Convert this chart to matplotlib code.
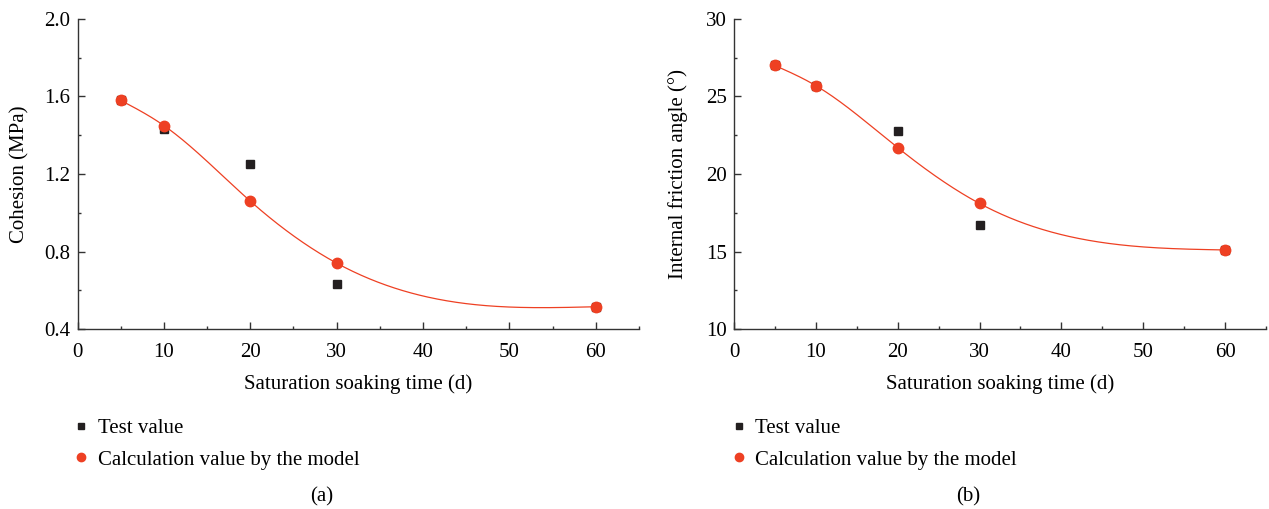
import matplotlib
matplotlib.use('Agg')
import numpy as np
import matplotlib.pyplot as plt
from matplotlib.ticker import MultipleLocator

plt.rcParams['font.family'] = ['Liberation Serif', 'DejaVu Serif']
plt.rcParams['font.size'] = 15

# soaking time (d)
days = [5, 10, 20, 30, 60]
# cohesion (MPa)
coh_test = [1.58, 1.43, 1.25, 0.63, 0.515]
coh_model = [1.58, 1.45, 1.06, 0.74, 0.515]
# internal friction angle (deg)
fric_test = [27.0, 25.65, 22.8, 16.7, 15.1]
fric_model = [27.0, 25.7, 21.7, 18.1, 15.1]

fit_days = [5, 10, 20, 30, 45, 60]
coh_fit = [1.58, 1.45, 1.06, 0.74, 0.531, 0.515]
fric_fit = [27.0, 25.7, 21.7, 18.1, 15.58, 15.1]

RED = '#EE4023'
BLACK = '#231F20'


def smooth(x, y, xs):
    # natural cubic spline through the given points
    x = np.asarray(x, float); y = np.asarray(y, float)
    n = len(x); h = np.diff(x)
    A = np.zeros((n, n)); b = np.zeros(n)
    A[0, 0] = A[-1, -1] = 1
    for i in range(1, n - 1):
        A[i, i - 1] = h[i - 1]
        A[i, i] = 2 * (h[i - 1] + h[i])
        A[i, i + 1] = h[i]
        b[i] = 3 * ((y[i + 1] - y[i]) / h[i] - (y[i] - y[i - 1]) / h[i - 1])
    c = np.linalg.solve(A, b)
    idx = np.clip(np.searchsorted(x, xs) - 1, 0, n - 2)
    dx = xs - x[idx]
    bb = (y[idx + 1] - y[idx]) / h[idx] - h[idx] * (2 * c[idx] + c[idx + 1]) / 3
    d = (c[idx + 1] - c[idx]) / (3 * h[idx])
    return y[idx] + bb * dx + c[idx] * dx ** 2 + d * dx ** 3


fig = plt.figure(figsize=(12.69, 5.09), dpi=100)
ax1 = fig.add_axes([0.0611, 0.3536, 0.4424, 0.6091])
ax2 = fig.add_axes([0.5784, 0.3536, 0.4192, 0.6091])

xs = np.linspace(5, 60, 400)
panels = [
    (ax1, coh_test, coh_model, coh_fit, 'Cohesion (MPa)', (0.4, 2.0), 0.4, 0.2, '%.1f', 0.0575, '(a)', 322),
    (ax2, fric_test, fric_model, fric_fit, 'Internal friction angle (°)', (10, 30), 5, 2.5, '%d', 0.5755, '(b)', 968),
]
for ax, test, model, fit, ylab, ylim, major, minor, fmt, legx, tag, tagx in panels:
    ax.plot(xs, smooth(fit_days, fit, xs), color=RED, lw=0.9, zorder=2)
    h1, = ax.plot(days, test, 's', color=BLACK, ms=6, ls='none', zorder=3, label='Test value')
    h2, = ax.plot(days, model, 'o', color=RED, ms=7.5, ls='none', zorder=4,
                  label='Calculation value by the model')
    ax.set_xlim(0, 65)
    ax.set_ylim(*ylim)
    ax.xaxis.set_major_locator(MultipleLocator(10))
    ax.xaxis.set_minor_locator(MultipleLocator(5))
    ax.yaxis.set_major_locator(MultipleLocator(major))
    ax.yaxis.set_minor_locator(MultipleLocator(minor))
    ax.yaxis.set_major_formatter(matplotlib.ticker.FormatStrFormatter(fmt))
    for s in ['top', 'right']:
        ax.spines[s].set_visible(False)
    for s in ['left', 'bottom']:
        ax.spines[s].set_linewidth(1.0)
        ax.spines[s].set_color('#333333')
    ax.tick_params(which='both', direction='in', color='#333333', width=1.0)
    ax.tick_params(which='major', length=5)
    ax.tick_params(which='minor', length=2.5)
    ax.tick_params(axis='x', pad=10)
    ax.tick_params(axis='y', pad=5)
    ax.set_ylabel(ylab)
    ax.set_xlabel('Saturation soaking time (d)')
    ax.yaxis.set_label_coords(-0.086, 0.5)
    ax.xaxis.set_label_coords(0.5, -0.147)
    ax.legend(handles=[h1, h2], loc='upper left', bbox_to_anchor=(legx, 0.177),
              bbox_transform=fig.transFigure, frameon=False, handlelength=0.8,
              handletextpad=0.4, labelspacing=0.55, borderpad=0, borderaxespad=0,
              markerscale=0.8, fontsize=15)
    fig.text(tagx / 1269, 1 - 497 / 509, tag, ha='center', va='center', fontsize=15)

fig.savefig('out.png', dpi=100)
